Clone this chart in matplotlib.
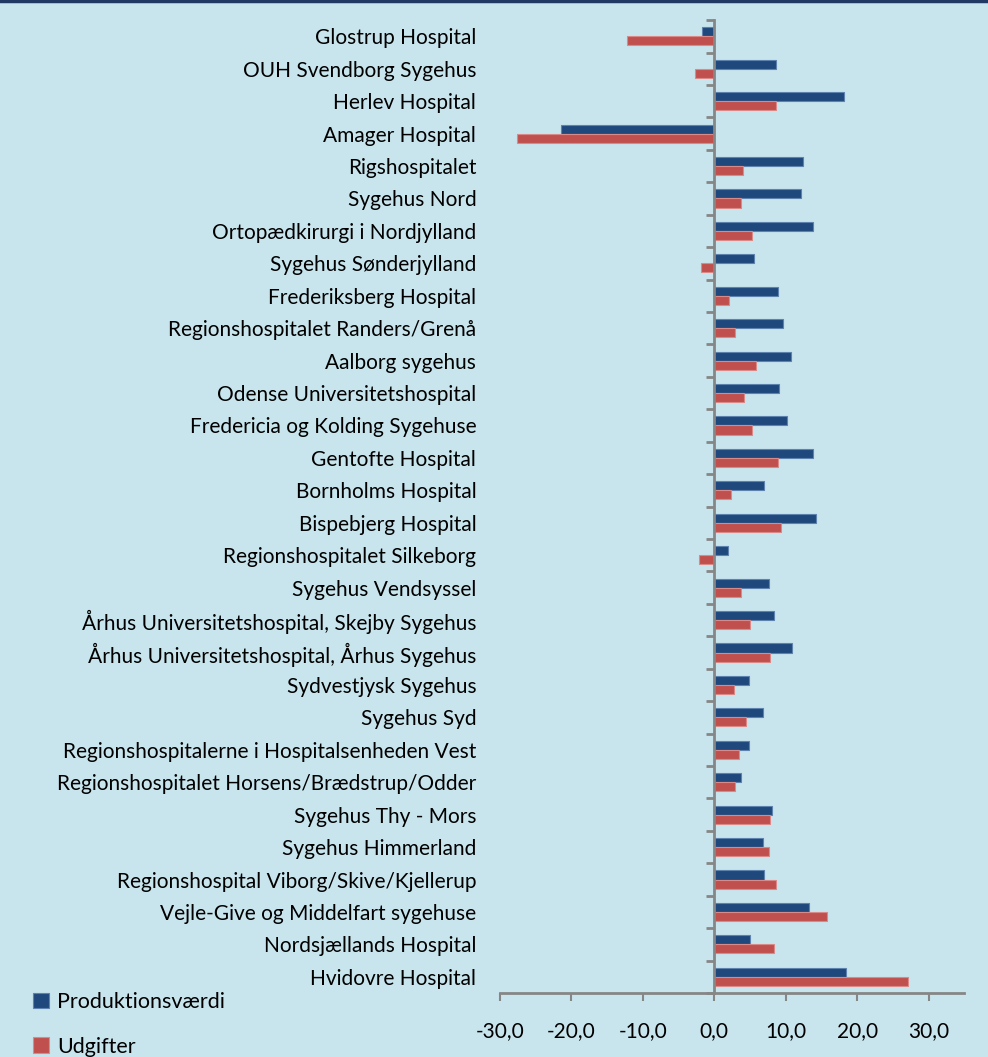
import matplotlib.pyplot as plt
import matplotlib.ticker as mticker
import numpy as np

plt.rcParams['font.family'] = ['Lato', 'DejaVu Sans']

# hospitals, top to bottom as in the chart
hospitals = [
    'Glostrup Hospital', 'OUH Svendborg Sygehus', 'Herlev Hospital',
    'Amager Hospital', 'Rigshospitalet', 'Sygehus Nord',
    'Ortopædkirurgi i Nordjylland', 'Sygehus Sønderjylland',
    'Frederiksberg Hospital', 'Regionshospitalet Randers/Grenå',
    'Aalborg sygehus', 'Odense Universitetshospital',
    'Fredericia og Kolding Sygehuse', 'Gentofte Hospital',
    'Bornholms Hospital', 'Bispebjerg Hospital',
    'Regionshospitalet Silkeborg', 'Sygehus Vendsyssel',
    'Århus Universitetshospital, Skejby Sygehus',
    'Århus Universitetshospital, Århus Sygehus',
    'Sydvestjysk Sygehus', 'Sygehus Syd',
    'Regionshospitalerne i Hospitalsenheden Vest',
    'Regionshospitalet Horsens/Brædstrup/Odder',
    'Sygehus Thy - Mors', 'Sygehus Himmerland',
    'Regionshospital Viborg/Skive/Kjellerup',
    'Vejle-Give og Middelfart sygehuse',
    'Nordsjællands Hospital', 'Hvidovre Hospital',
]
produktion = [-1.7, 8.6, 18.1, -21.4, 12.4, 12.2, 13.8, 5.5, 8.9, 9.6,
              10.7, 9.1, 10.2, 13.8, 7.0, 14.3, 1.9, 7.6, 8.3, 10.9,
              4.8, 6.8, 4.8, 3.7, 8.1, 6.8, 7.0, 13.2, 5.0, 18.4]
udgifter = [-12.2, -2.7, 8.6, -27.6, 4.0, 3.7, 5.3, -1.9, 2.0, 2.9,
            5.8, 4.2, 5.3, 8.9, 2.4, 9.4, -2.2, 3.7, 5.0, 7.8,
            2.7, 4.5, 3.5, 2.9, 7.8, 7.6, 8.6, 15.8, 8.3, 27.1]
x_ticks = [-30, -20, -10, 0, 10, 20, 30]

bg = '#C8E5ED'
blue = '#1F497D'
red = '#C0504D'
grey = '#868686'

fig = plt.figure(figsize=(9.88, 10.57), dpi=100, facecolor=bg)
ax = fig.add_axes([0.506, 0.0605, 0.47, 0.9205], facecolor=bg)

y = np.arange(len(hospitals))
h = 0.28
ax.barh(y - h / 2, produktion, height=h, color=blue, edgecolor='#5E82AE',
        linewidth=0.8, label='Produktionsværdi')
ax.barh(y + h / 2, udgifter, height=h, color=red, edgecolor='#D98A88',
        linewidth=0.8, label='Udgifter')

ax.set_xlim(-30, 35)
ax.set_ylim(len(hospitals) - 0.5, -0.5)

# value axis at bottom
ax.set_xticks(x_ticks)
ax.xaxis.set_major_formatter(mticker.FuncFormatter(
    lambda v, p: f'{v:.1f}'.replace('.', ',')))
ax.tick_params(axis='x', direction='out', length=6, width=1.5, color=grey,
               labelsize=15, pad=14)
for s in ['top', 'right']:
    ax.spines[s].set_visible(False)
ax.spines['bottom'].set_color(grey)
ax.spines['bottom'].set_linewidth(2)

# category axis drawn at zero, ticks between categories
ax.spines['left'].set_position(('data', 0))
ax.spines['left'].set_color(grey)
ax.spines['left'].set_linewidth(2)
ax.set_yticks(np.arange(-0.5, len(hospitals), 1))
ax.tick_params(axis='y', direction='out', length=6, width=2, color=grey,
               labelleft=False)

# category labels at the left edge of the plot area
sec = ax.secondary_yaxis('left')
sec.set_yticks(y, hospitals)
sec.spines['left'].set_visible(False)
sec.tick_params(length=0, labelsize=15, pad=17)

fig.legend(loc='lower left', bbox_to_anchor=(0.014, -0.018), frameon=False,
           fontsize=15.5, handlelength=0.75, handleheight=0.75,
           handletextpad=0.35, labelspacing=1.15)

fig.add_artist(plt.Line2D([0, 1], [0.999, 0.999], color='#1F3864', lw=2.5,
                          transform=fig.transFigure))

fig.savefig('out.png', dpi=100, facecolor=bg)
